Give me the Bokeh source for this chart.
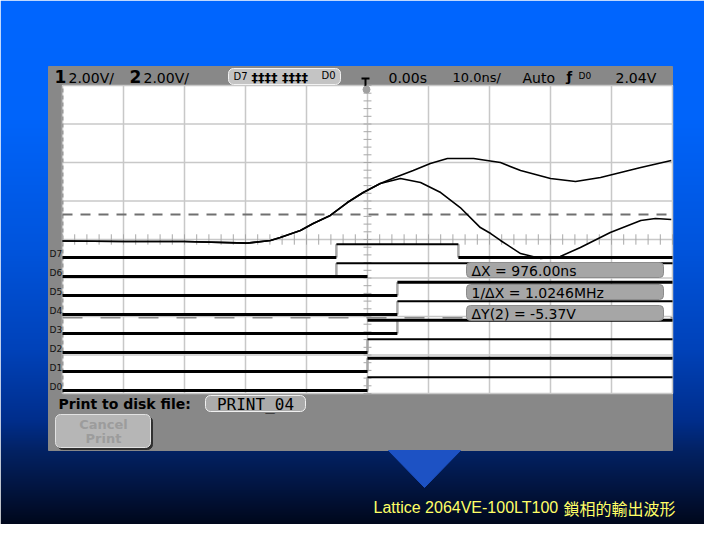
import numpy as np
from bokeh.plotting import figure
from bokeh.models import Range1d, BoxAnnotation, Label
from bokeh.embed import file_html
from bokeh.resources import INLINE

# ---------------- data ----------------
time_per_div_ns = 10.0
volts_per_div = 2.0
grid_t_ticks = [-50, -40, -30, -20, -10, 0, 10, 20, 30, 40, 50]
grid_v_ticks = [-8, -6, -4, -2, 0, 2, 4, 6, 8]

ch1_t = [-50, -40, -30, -19.7, -15.9, -14.3, -11.0, -8.9, -6.1, -3.3, -0.7, 2.1, 4.5, 7.5,
         10.3, 13.1, 17.4, 21.8, 25.1, 30.0, 34.1, 38.2, 44.8, 49.8]
ch1_v = [-0.08, -0.10, -0.10, -0.19, -0.05, 0.10, 0.47, 0.83, 1.25, 1.92, 2.44, 2.91, 3.22, 3.58,
         3.95, 4.21, 4.21, 4.00, 3.58, 3.17, 3.01, 3.22, 3.74, 4.10]
ch2_t = [-50, -40, -30, -19.7, -15.9, -14.3, -11.0, -8.9, -6.1, -3.3, -0.7, 2.1, 5.4, 8.7,
         12.0, 15.2, 18.5, 20.2, 21.8, 25.1, 28.4, 31.6, 34.9, 39.8, 44.8, 47.2, 49.8]
ch2_v = [-0.08, -0.10, -0.10, -0.19, -0.05, 0.10, 0.47, 0.83, 1.25, 1.92, 2.44, 2.91, 3.17, 2.96,
         2.44, 1.66, 0.62, 0.31, -0.05, -0.73, -0.99, -0.88, -0.42, 0.36, 0.99, 1.09, 1.04]

cursor_y1_v = 1.30
cursor_y2_v = -4.07

digital_names = ["D7", "D6", "D5", "D4", "D3", "D2", "D1", "D0"]
digital_lane = [7, 6, 5, 4, 3, 2, 1, 0]
digital_start = [[-50, -5.1, 14.9], [-50, -5.1], [-50, 4.9], [-50, 4.9], [-50, 0.0], [-50, 0.0], [-50, 0.0], [-50, 0.0]]
digital_end = [[-5.1, 14.9, 50], [0.0, 50], [4.9, 50], [4.9, 50], [4.9, 50], [0.0, 50], [0.0, 50], [0.0, 50]]
digital_level = [[0, 1, 0], [0, 1], [0, 1], [0, 1], [0, 1], [0, 1], [0, 1], [0, 1]]
digital_edges = [[-5.1, 14.9], [-5.1], [4.9], [4.9], [4.9], [0.0], [0.0], [0.0]]

header_ch = ["1", "2"]
header_scale = ["2.00V/", "2.00V/"]
header_right = ["0.00s", "10.0ns/", "Auto", "2.04V"]
measure_labels = ["\u0394X = 976.00ns", "1/\u0394X = 1.0246MHz", "\u0394Y(2) = -5.37V"]
print_label = "Print to disk file:"
print_file = "PRINT_04"
cancel_label = ["Cancel", "Print"]
caption_en = "Lattice 2064VE-100LT100"
caption_zh = "鎖相的輸出波形"

# ---------------- layout ----------------
W, H = 704, 524


def X(xr):
    return xr


def Y(yr):
    return H - yr


GL, GR, GT, GB = 62, 672, 85, 393
CX = (GL + GR) / 2
CY = (GT + GB) / 2
PX_DIV_X = (GR - GL) / 10
PX_DIV_Y = (GB - GT) / 8
LANE0_Y, LANE_PX, HIGH = 390, 19, 0.7

p = figure(width=W, height=H, x_range=Range1d(0, W), y_range=Range1d(0, H),
           output_backend="svg", toolbar_location=None, x_axis_type=None, y_axis_type=None,
           min_border=0, outline_line_color=None)
p.extra_x_ranges = {"t": Range1d((0 - CX) / PX_DIV_X * time_per_div_ns, (W - CX) / PX_DIV_X * time_per_div_ns)}
p.extra_y_ranges = {
    "v": Range1d((CY - H) / PX_DIV_Y * volts_per_div, (CY - 0) / PX_DIV_Y * volts_per_div),
    "d": Range1d((LANE0_Y - H) / LANE_PX, (LANE0_Y - 0) / LANE_PX),
}

# background gradient
stop_y = [0, 120, 250, 350, 420, 450, 490, 540]
stop_r = [0, 0, 0, 0, 0, 3, 2, 0]
stop_g = [102, 100, 84, 66, 46, 34, 20, 2]
stop_b = [255, 250, 220, 185, 140, 100, 62, 12]
ry = H - (np.arange(H) + 0.5)
img = np.empty((H, 2), dtype=np.uint32)
view = img.view(dtype=np.uint8).reshape((H, 2, 4))
for k, st in enumerate([stop_r, stop_g, stop_b]):
    view[:, :, k] = np.interp(ry, stop_y, st).astype(np.uint8)[:, None]
view[:, :, 3] = 255
p.image_rgba(image=[img], x=0, y=0, dw=W, dh=H)

# scope frame
p.quad(left=X(48), right=X(672), top=Y(66), bottom=Y(450), color="#888888")
# white screen
tmin, tmax = grid_t_ticks[0], grid_t_ticks[-1]
vmin, vmax = grid_v_ticks[0], grid_v_ticks[-1]
p.quad(left=tmin, right=tmax, bottom=vmin, top=vmax, color="white", x_range_name="t", y_range_name="v")

# grid
p.segment(x0=grid_t_ticks, x1=grid_t_ticks, y0=[vmin] * len(grid_t_ticks), y1=[vmax] * len(grid_t_ticks),
          color="#c8c8c8", line_width=1.5, x_range_name="t", y_range_name="v")
p.segment(x0=[tmin] * len(grid_v_ticks), x1=[tmax] * len(grid_v_ticks), y0=grid_v_ticks, y1=grid_v_ticks,
          color="#c8c8c8", line_width=1.5, x_range_name="t", y_range_name="v")
p.segment(x0=[tmin], x1=[tmin], y0=[vmin], y1=[vmax], color="#9a9a9a", line_width=2,
          line_dash="4 3", x_range_name="t", y_range_name="v")
# minor ticks on centre lines
mt = np.arange(tmin, tmax + 0.01, time_per_div_ns / 5)
p.segment(x0=mt, x1=mt, y0=[-0.27] * len(mt), y1=[0.27] * len(mt), color="#a8a8a8", line_width=1,
          x_range_name="t", y_range_name="v")
mv = np.arange(vmin, vmax + 0.01, volts_per_div / 5)
p.segment(x0=[-0.65] * len(mv), x1=[0.65] * len(mv), y0=mv, y1=mv, color="#a8a8a8", line_width=1,
          x_range_name="t", y_range_name="v")

# Y cursors
p.line([tmin, tmax], [cursor_y1_v, cursor_y1_v], color="#707070", line_width=2, line_dash="10 8",
       x_range_name="t", y_range_name="v")
p.line([tmin, tmax], [cursor_y2_v, cursor_y2_v], color="#8a8a8a", line_width=1.5, line_dash="20 18",
       x_range_name="t", y_range_name="v")

# digital channels
thick_high = {"D5", "D3", "D1"}
sx0, sx1, sy, sw = [], [], [], []
ex, ey0, ey1 = [], [], []
for name, lane, st, en, lv, ed in zip(digital_names, digital_lane, digital_start, digital_end,
                                      digital_level, digital_edges):
    for a, b, l in zip(st, en, lv):
        sx0.append(a)
        sx1.append(b)
        sy.append(lane + HIGH * l)
        sw.append(3 if (l == 0 or name in thick_high) else 2)
    for e in ed:
        ex.append(e)
        ey0.append(lane)
        ey1.append(lane + HIGH)
p.segment(x0=ex, x1=ex, y0=ey0, y1=ey1, color="#a8a8a8", line_width=2.5, x_range_name="t", y_range_name="d")
p.segment(x0=sx0, x1=sx1, y0=sy, y1=sy, color="black", line_width=sw, x_range_name="t", y_range_name="d")

# analog channels
p.line(ch1_t, ch1_v, color="black", line_width=1.6, x_range_name="t", y_range_name="v")
p.line(ch2_t, ch2_v, color="black", line_width=1.6, x_range_name="t", y_range_name="v")

# trigger marker
p.segment(x0=[X(361), X(365)], x1=[X(369), X(365)], y0=[Y(78), Y(78)], y1=[Y(78), Y(86)],
          color="black", line_width=2)
p.scatter(x=[X(366)], y=[Y(89)], size=7, color="#a0a0a0")

# the triangle under the screen
p.patch(x=[X(388), X(460), X(424)], y=[Y(450), Y(450), Y(487)], color="#1d52c4")


def box(l, r, t, b, fill, line, radius=4, lw=1):
    p.add_layout(BoxAnnotation(left=X(l), right=X(r), top=Y(t), bottom=Y(b), fill_color=fill, fill_alpha=1,
                               line_color=line, line_alpha=1, line_width=lw, border_radius=radius))


def label(xr, yr, s, size=12, color="black", font="DejaVu Sans", style="normal", align="left",
          baseline="middle"):
    p.add_layout(Label(x=X(xr), y=Y(yr), text=s, text_font=font, text_font_size=f"{size}px",
                       text_color=color, text_font_style=style, text_align=align, text_baseline=baseline))


# header
label(54, 76, header_ch[0], 17, style="bold")
label(68, 77, header_scale[0], 14)
label(129, 76, header_ch[1], 17, style="bold")
label(143, 77, header_scale[1], 14)
box(228, 340, 68, 84, "#c4c4c4", "#f2f2f2", 5)
label(233, 76, "D7", 10)
label(251, 77, "\u2021\u2021\u2021\u2021 \u2021\u2021\u2021\u2021", 13, style="bold")
label(321, 75, "D0", 10)
label(388, 77, header_right[0], 14)
label(452, 77, header_right[1], 13)
label(522, 77, header_right[2], 14)
label(566, 76, "\u0192", 13, style="bold")
label(578, 75, "D0", 9)
label(615, 77, header_right[3], 14)

# digital channel names in the left strip
for name, lane in zip(digital_names, digital_lane):
    label(49, LANE0_Y - LANE_PX * lane - 4, name, 9, color="#111111")

# measurement readouts
for i, s in enumerate(measure_labels):
    top = [262, 284, 305][i]
    box(466, 663, top, top + 15, "#a6a6a6", "#8c8c8c", 4)
    label(471, top + 8, s, 14)

# bottom area
label(58, 403, print_label, 14, style="bold")
box(205, 305, 395, 411, "#ababab", "#f0f0f0", 5)
label(255, 404, print_file, 16, font="DejaVu Sans Mono", align="center")
box(57, 152, 416, 449, "#303030", "#303030", 5)
box(55, 150, 414, 447, "#b6b6b6", "#e2e2e2", 5)
label(103, 424, cancel_label[0], 13, color="#9c9c9c", style="bold", align="center")
label(103, 438, cancel_label[1], 13, color="#9c9c9c", style="bold", align="center")

# caption
label(373, 507, caption_en, 16, color="#ffff66", font="Liberation Sans")
label(563, 507, caption_zh, 16, color="#ffff66", font="Noto Sans CJK TC")

open("out.html", "w").write(file_html(p, INLINE))
